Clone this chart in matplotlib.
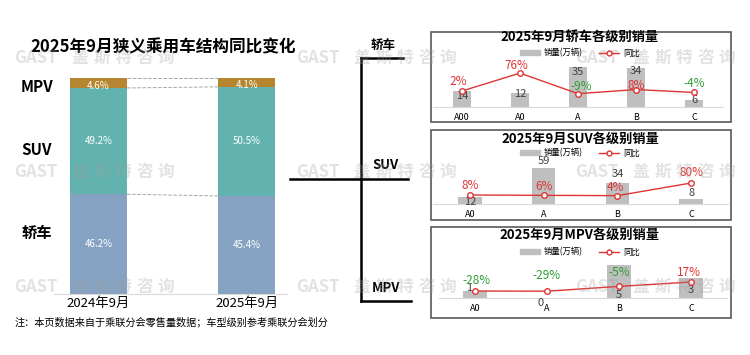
import matplotlib
matplotlib.use('Agg')
import matplotlib.pyplot as plt
from matplotlib.patches import Rectangle, Patch
from matplotlib.lines import Line2D

plt.rcParams['font.family'] = ['Noto Sans CJK SC', 'DejaVu Sans']

W, H = 750, 355

# ---- data ----
months = ['2024年9月', '2025年9月']
share_sedan = [46.2, 45.4]
share_suv = [49.2, 50.5]
share_mpv = [4.6, 4.1]
seg_names = ['轿车', 'SUV', 'MPV']

sedan_cats = ['A00', 'A0', 'A', 'B', 'C']
sedan_sales = [14, 12, 35, 34, 6]
sedan_yoy = [2, 76, -9, 8, -4]

suv_cats = ['A0', 'A', 'B', 'C']
suv_sales = [12, 59, 34, 8]
suv_yoy = [8, 6, 4, 80]

mpv_cats = ['A0', 'A', 'B', 'C']
mpv_sales = [1, 0, 5, 3]
mpv_yoy = [-28, -29, -5, 17]

fig = plt.figure(figsize=(W / 100, H / 100), dpi=100)


def fx(x):
    return x / W


def fy(y):
    return 1 - y / H


def px_axes(x0, y0, x1, y1):
    return fig.add_axes([fx(x0), fy(y1), (x1 - x0) / W, (y1 - y0) / H])


# ---- left: structure chart ----
c_sedan, c_suv, c_mpv = '#86A2C3', '#62B3AF', '#B5852F'
ax = px_axes(54, 78, 287, 294)
x = [0, 1]
bw = 0.384
ax.bar(x, share_sedan, bw, color=c_sedan)
ax.bar(x, share_suv, bw, bottom=share_sedan, color=c_suv)
b2 = [a + b for a, b in zip(share_sedan, share_suv)]
ax.bar(x, share_mpv, bw, bottom=b2, color=c_mpv)
for i in x:
    ax.text(i, share_sedan[i] / 2, f'{share_sedan[i]:.1f}%', ha='center', va='center',
            color='white', fontsize=7)
    ax.text(i, share_sedan[i] + share_suv[i] / 2, f'{share_suv[i]:.1f}%', ha='center',
            va='center', color='white', fontsize=7)
    ax.text(i, b2[i] + share_mpv[i] / 2 - 1.2, f'{share_mpv[i]:.1f}%', ha='center',
            va='center', color='white', fontsize=7)
tops = [[a + b for a, b in zip(b2, share_mpv)], b2, share_sedan]
for lv in tops:
    ax.plot([bw / 2, 1 - bw / 2], lv, ls='--', color='#A6A6A6', lw=0.7)
ax.set_xlim(-0.3, 1.27)
ax.set_ylim(0, 100)
ax.set_yticks([])
ax.set_xticks(x)
ax.set_xticklabels(months, fontsize=9.5)
ax.tick_params(axis='x', length=0, pad=2)
for s in ['top', 'right', 'left']:
    ax.spines[s].set_visible(False)
ax.spines['bottom'].set_color('#D9D9D9')

fig.text(fx(163), fy(47), '2025年9月狭义乘用车结构同比变化', ha='center', va='center',
         fontsize=12, fontweight='bold')
fig.text(fx(37), fy(87), 'MPV', ha='center', va='center', fontsize=11, fontweight='bold')
fig.text(fx(37), fy(150), 'SUV', ha='center', va='center', fontsize=11, fontweight='bold')
fig.text(fx(37), fy(233), '轿车', ha='center', va='center', fontsize=11, fontweight='bold')
fig.text(fx(15), fy(322), '注：本页数据来自于乘联分会零售量数据；车型级别参考乘联分会划分',
         ha='left', va='center', fontsize=7.3)

# ---- bracket ----
lk = dict(color='black', lw=1.8, transform=fig.transFigure)
fig.add_artist(Line2D([fx(290), fx(408)], [fy(179), fy(179)], **lk))
fig.add_artist(Line2D([fx(361), fx(361)], [fy(58), fy(301)], **lk))
fig.add_artist(Line2D([fx(361), fx(403)], [fy(58), fy(58)], **lk))
fig.add_artist(Line2D([fx(361), fx(411)], [fy(301), fy(301)], **lk))
fig.text(fx(383), fy(46), seg_names[0], ha='center', va='center', fontsize=9, fontweight='bold')
fig.text(fx(385), fy(165), seg_names[1], ha='center', va='center', fontsize=9.5, fontweight='bold')
fig.text(fx(386), fy(288), seg_names[2], ha='center', va='center', fontsize=9.5, fontweight='bold')

# ---- right panels ----
red = '#E03434'
green = '#2E9E35'

panels = [
    dict(title='2025年9月轿车各级别销量', cats=sedan_cats, sales=sedan_sales, yoy=sedan_yoy,
         box=(431, 32, 731, 122), ax=(433, 60, 723, 107), ylim=(0, 41), ylim2=(-64, 130),
         ty=38, ly=53, lx=580,
         voff=[(0, -5), (0, -1), (0, -5), (0, -3), (0, 0)],
         poff=[(-4, 10), (-4, 8), (3, 7), (0, 4), (0, 9)]),
    dict(title='2025年9月SUV各级别销量', cats=suv_cats, sales=suv_sales, yoy=suv_yoy,
         box=(431, 130, 731, 220), ax=(433, 160, 728, 204), ylim=(0, 72), ylim2=(-46, 218),
         ty=139, ly=153, lx=580,
         voff=[(0, -5), (0, 7), (0, 9), (0, 6)],
         poff=[(0, 9), (0, 9), (-2, 8), (0, 10)]),
    dict(title='2025年9月MPV各级别销量', cats=mpv_cats, sales=mpv_sales, yoy=mpv_yoy,
         box=(431, 227, 731, 318), ax=(439, 254, 727, 298), ylim=(0, 6.67), ylim2=(-63, 157),
         ty=235, ly=252, lx=580,
         voff=[(-6, 3), (-6, -5), (0, -30), (0, -12)],
         poff=[(2, 10), (0, 16), (0, 14), (-2, 10)]),
]

for p in panels:
    x0, y0, x1, y1 = p['box']
    fig.add_artist(Rectangle((fx(x0), fy(y1)), (x1 - x0) / W, (y1 - y0) / H,
                             transform=fig.transFigure, fill=False,
                             edgecolor='#595959', lw=1.2))
    a = px_axes(*p['ax'])
    xs = list(range(len(p['cats'])))
    a.bar(xs, p['sales'], 0.32, color='#BFBFBF')
    a.set_xlim(-0.5, len(xs) - 0.5)
    a.set_ylim(*p['ylim'])
    a.set_yticks([])
    a.set_xticks(xs)
    a.set_xticklabels(p['cats'], fontsize=6.5)
    a.tick_params(axis='x', length=0, pad=4.5)
    for s in ['top', 'right', 'left']:
        a.spines[s].set_visible(False)
    a.spines['bottom'].set_color('#D9D9D9')
    for i, v in enumerate(p['sales']):
        a.annotate(str(v), (i, v), xytext=p['voff'][i], textcoords='offset pixels',
                   ha='center', va='center', fontsize=8, color='#404040')
    a2 = a.twinx()
    a2.plot(xs, p['yoy'], color=red, lw=1, marker='o', ms=4, mfc='white', mec=red, mew=1)
    a2.set_ylim(*p['ylim2'])
    a2.set_yticks([])
    for s in a2.spines.values():
        s.set_visible(False)
    for i, v in enumerate(p['yoy']):
        a2.annotate(f'{v}%', (i, v), xytext=p['poff'][i], textcoords='offset pixels',
                    ha='center', va='center', fontsize=8.5,
                    color=red if v >= 0 else green)
    fig.text(fx(580), fy(p['ty']), p['title'], ha='center', va='center',
             fontsize=9.5, fontweight='bold')
    hs = [Patch(color='#BFBFBF'),
          Line2D([], [], color=red, lw=1, marker='o', ms=3.5, mfc='white', mec=red)]
    fig.legend(hs, ['销量(万辆)', '同比'], loc='center', ncol=2, frameon=False,
               bbox_to_anchor=(fx(p['lx']), fy(p['ly'])), bbox_transform=fig.transFigure,
               fontsize=6, handlelength=2.4, handleheight=0.6, columnspacing=2.0,
               handletextpad=0.5, borderpad=0)

# ---- watermark ----
wm_cn = '盖斯特咨询'
for wy in [58, 172, 287]:
    for wx in [14, 296, 575]:
        fig.text(fx(wx), fy(wy), 'GAST', ha='left', va='center', fontsize=12,
                 fontweight='bold', color='#A0A0A0', alpha=0.3)
        for k, ch in enumerate(wm_cn):
            fig.text(fx(wx + 66 + 21.5 * k), fy(wy), ch, ha='center', va='center',
                     fontsize=12, fontweight='bold', color='#A0A0A0', alpha=0.3)

fig.savefig('out.png', dpi=100)
